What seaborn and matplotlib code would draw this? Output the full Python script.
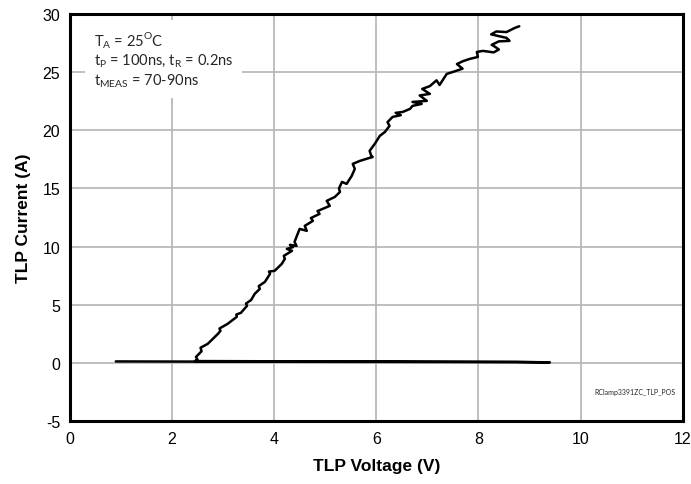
import matplotlib
matplotlib.use("Agg")
import matplotlib.pyplot as plt
import seaborn as sns

# TLP trace (voltage in V, current in A)
base_v = [0.90, 3.00, 6.00, 8.75, 9.40, 8.75, 5.00, 2.45]
base_i = [0.12, 0.10, 0.08, 0.06, 0.04, 0.08, 0.12, 0.15]

curve_v = [2.45, 2.50, 2.47, 2.58, 2.56, 2.70, 2.90, 2.95, 2.93, 3.09,
           3.27, 3.26, 3.35, 3.47, 3.45, 3.55, 3.62, 3.72, 3.70, 3.82,
           3.92, 3.90, 4.01, 4.15, 4.21, 4.19, 4.35, 4.25, 4.37, 4.31,
           4.44, 4.40, 4.50, 4.64, 4.60, 4.76, 4.72, 4.89, 4.85, 4.95,
           5.09, 5.03, 5.19, 5.29, 5.27, 5.33, 5.42, 5.52, 5.58, 5.54,
           5.68, 5.93, 5.91, 5.87, 5.97, 6.07, 6.17, 6.26, 6.22, 6.32,
           6.48, 6.38, 6.52, 6.66, 6.71, 6.89, 6.71, 6.99, 6.85, 7.05,
           6.90, 7.05, 7.18, 7.24, 7.38, 7.50, 7.69, 7.58, 7.70, 7.83,
           7.99, 7.97, 8.09, 8.30, 8.40, 8.32, 8.26, 8.40, 8.61, 8.55,
           8.40, 8.25, 8.35, 8.55, 8.71, 8.80]
curve_i = [0.15, 0.30, 0.50, 1.00, 1.30, 1.63, 2.49, 2.75, 2.95, 3.35,
           3.96, 4.15, 4.30, 4.90, 5.10, 5.40, 5.93, 6.36, 6.60, 6.96,
           7.65, 7.85, 7.91, 8.51, 8.94, 9.20, 9.63, 9.80, 9.95, 10.15,
           10.06, 10.40, 11.52, 11.35, 11.78, 12.21, 12.45, 12.81, 13.05, 13.24,
           13.50, 13.93, 14.27, 14.70, 15.00, 15.56, 15.39, 16.08, 16.68, 17.11,
           17.37, 17.71, 17.71, 18.23, 18.83, 19.52, 19.86, 20.38, 20.70, 21.15,
           21.30, 21.50, 21.58, 21.84, 22.10, 22.27, 22.44, 22.53, 23.00, 23.13,
           23.56, 23.80, 24.30, 23.90, 24.85, 25.02, 25.30, 25.70, 25.95, 26.14,
           26.31, 26.74, 26.83, 26.70, 26.95, 27.20, 27.35, 27.65, 27.69, 27.95,
           28.10, 28.25, 28.50, 28.45, 28.80, 28.95]

x_ticks = [0, 2, 4, 6, 8, 10, 12]
y_ticks = [-5, 0, 5, 10, 15, 20, 25, 30]

sns.set_theme(style="whitegrid")
plt.rcParams["font.family"] = ["Liberation Sans", "DejaVu Sans"]
plt.rcParams["axes.unicode_minus"] = False
plt.rcParams["axes.labelcolor"] = "black"
plt.rcParams["mathtext.fontset"] = "custom"
plt.rcParams["mathtext.rm"] = "Lato"

fig = plt.figure(figsize=(6.91, 4.85), dpi=100)
ax = fig.add_axes([0.101, 0.130, 0.887, 0.839])

trace_v = base_v + curve_v
trace_i = base_i + curve_i
sns.lineplot(x=trace_v, y=trace_i, sort=False, estimator=None,
             color="black", linewidth=1.8, ax=ax,
             solid_joinstyle="round", solid_capstyle="round")

ax.set_xlim(0, 12)
ax.set_ylim(-5, 30)
ax.set_xticks(x_ticks)
ax.set_yticks(y_ticks)
ax.tick_params(axis="both", labelsize=11.5, length=0, pad=7, colors="black")
ax.grid(True, color="#b4b4b4", linewidth=1.2)
ax.set_axisbelow(True)
for sp in ax.spines.values():
    sp.set_color("black")
    sp.set_linewidth(2.2)

ax.set_xlabel("TLP Voltage (V)", fontsize=12.5, fontweight="bold", labelpad=9)
ax.set_ylabel("TLP Current (A)", fontsize=12.5, fontweight="bold", labelpad=8)

label = ("T$_\\mathregular{A}$ = 25$^\\mathregular{O}$C\n"
         "t$_\\mathregular{P}$ = 100ns, t$_\\mathregular{R}$ = 0.2ns\n"
         "t$_\\mathregular{MEAS}$ = 70-90ns")
ax.text(0.47, 28.7, label, fontsize=10.5, family=["Lato", "DejaVu Sans"],
        va="top", ha="left", linespacing=1.15,
        bbox=dict(boxstyle="square,pad=0.6", fc="white", ec="none"))

ax.text(11.86, -2.5, "RClamp3391ZC_TLP_POS", fontsize=5, ha="right",
        va="center", family=["Lato", "DejaVu Sans"])

fig.savefig("out.png", dpi=100)
